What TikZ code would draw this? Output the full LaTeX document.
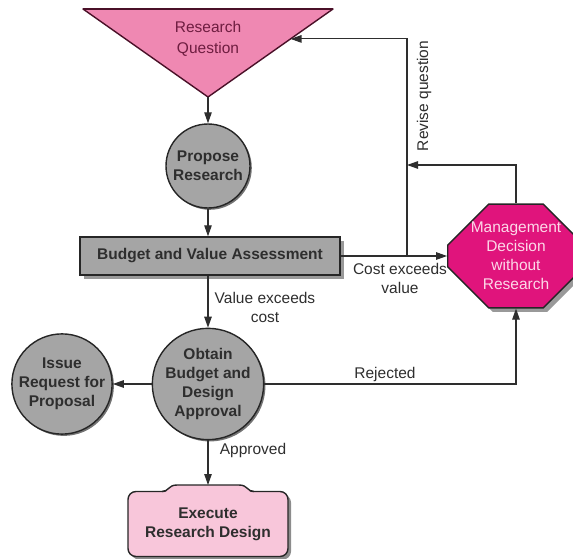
\documentclass[tikz,border=0pt]{standalone}
\usepackage{fontspec}
\setmainfont{Liberation Sans}
\usetikzlibrary{arrows.meta, shapes.misc, shadows}

\definecolor{qpink}{HTML}{EF88B2}
\definecolor{qline}{HTML}{4A1028}
\definecolor{qtext}{HTML}{6E1D40}
\definecolor{stepgray}{HTML}{A5A5A5}
\definecolor{mgmtpink}{HTML}{E0147C}
\definecolor{mgmttext}{HTML}{FCD8E8}
\definecolor{execpink}{HTML}{F8C6DA}
\definecolor{inkgray}{HTML}{2E2E2E}

\begin{document}
\begin{tikzpicture}[x=1pt, y=-1pt,
  every node/.style={font=\fontsize{15.5}{19}\selectfont, text=inkgray, align=center},
  arr/.style={-{Triangle[length=11pt, width=7.5pt]}, line width=1.1pt, draw=inkgray},
  outline/.style={draw=black!85, line width=1.4pt},
  stepcircle/.style={circle, outline, fill=stepgray, inner sep=0pt,
    font=\bfseries\fontsize{15.5}{19}\selectfont,
    drop shadow={shadow xshift=1.8pt, shadow yshift=-1.8pt, fill=black!55, opacity=1}},
  stepbox/.style={rectangle, outline, fill=stepgray, minimum width=260, minimum height=38,
    font=\bfseries\fontsize{15.5}{19}\selectfont,
    drop shadow={shadow xshift=4pt, shadow yshift=-4pt, fill=black!40, opacity=1}},
  stopbox/.style={chamfered rectangle, chamfered rectangle xsep=23pt, chamfered rectangle ysep=18pt,
    draw=black!85, line width=1.4pt, fill=mgmtpink, text=mgmttext, minimum width=115, minimum height=102,
    inner sep=0pt, drop shadow={shadow xshift=4pt, shadow yshift=-4pt, fill=black!40, opacity=1}},
  execbox/.style={rectangle, rounded corners=8pt, outline, fill=execpink, minimum width=160, minimum height=65,
    font=\bfseries\fontsize{15.5}{19}\selectfont,
    drop shadow={shadow xshift=3pt, shadow yshift=-3pt, fill=black!45, opacity=1}},
  edgelabel/.style={inner sep=1pt}
]
  \useasboundingbox (0,0) rectangle (573,559);

  % Research question (triangle)
  \coordinate (qleft) at (83,9);
  \coordinate (qright) at (333,9);
  \coordinate (qapex) at (208,97);
  \draw[qline, line width=1.4pt, fill=qpink, line join=round] (qleft) -- (qright) -- (qapex) -- cycle;
  \draw[qline, line width=2.5pt] (qleft) -- (qright);
  \node[text=qtext, font=\fontsize{15.5}{20.5}\selectfont] (question) at (208,39) {Research\\Question};
  \path (qright) -- (qapex) coordinate[pos=0.34] (qhit);

  % Steps
  \node[stepcircle, minimum size=84] (propose) at (208,166) {Propose\\Research};
  \node[stepbox] (budget) at (210,256) {Budget and Value Assessment};
  \node[stopbox] (mgmt) at (516,256) {Management\\Decision\\without\\Research};
  \node[stepcircle, minimum size=96] (obtain) at (208,384) {Obtain\\Budget and\\Design\\Approval};
  \node[stepcircle, minimum size=98] (issue) at (62,384) {Issue\\Request for\\Proposal};

  % Execute research design (box with a bump on top)
  \node[execbox] (execute) at (208,524) {Execute\\Research Design};
  \fill[execpink] (163,493.2) .. controls (169,491.5) and (168,485) .. (177,485) -- (239,485) .. controls (248,485) and (247,491.5) .. (253,493.2) -- cycle;
  \draw[black!85, line width=1.4pt] (162,491.5) .. controls (169,491.5) and (168,485) .. (177,485) -- (239,485) .. controls (248,485) and (247,491.5) .. (254,491.5);
  \coordinate (bumptop) at (208,485);

  % Connectors
  \coordinate (fork) at (407,256);
  \coordinate (rejoin) at (407,165);
  \draw[arr] (qapex) -- (propose);
  \draw[arr] (propose) -- (propose |- budget.north);
  \draw[arr] (budget.east) -- (mgmt.west);
  \draw[arr] (fork) |- (qhit);
  \draw[arr] (mgmt.north) |- (rejoin);
  \draw[arr] (obtain |- budget.south) -- (obtain);
  \draw[arr] (obtain) -- (issue);
  \draw[arr] (obtain.east) -| (mgmt.south);
  \draw[arr] (obtain) -- (bumptop);

  % Labels
  \node[edgelabel, rotate=90] (revise) at (424,96) {Revise question};
  \node[edgelabel] (costlbl) at (400,278) {Cost exceeds\\value};
  \node[edgelabel] (valuelbl) at (265,307) {Value exceeds\\cost};
  \node[edgelabel] (rejectlbl) at (385,374) {Rejected};
  \node[edgelabel] (approvelbl) at (253,450) {Approved};
\end{tikzpicture}
\end{document}
